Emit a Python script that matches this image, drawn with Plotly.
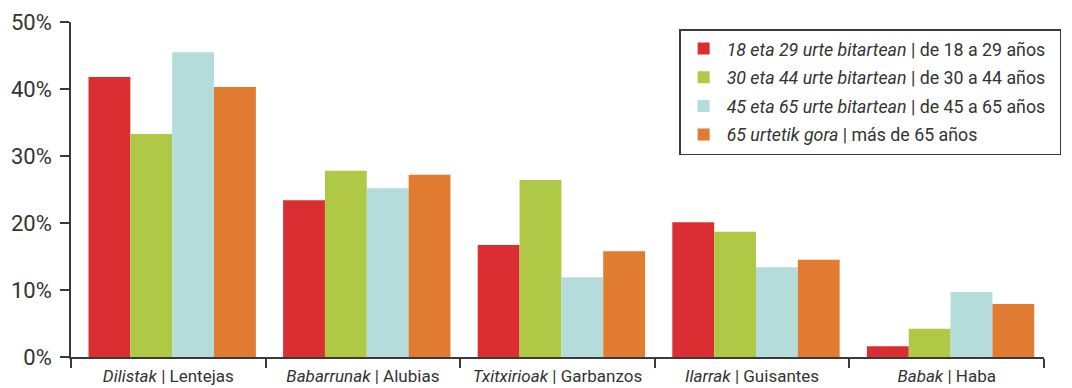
import plotly.graph_objects as go

categories = ["<i>Dilistak</i> | Lentejas", "<i>Babarrunak</i> | Alubias",
              "<i>Txitxirioak</i> | Garbanzos", "<i>Ilarrak</i> | Guisantes",
              "<i>Babak</i> | Haba"]
series_names = ["<i>18 eta 29 urte bitartean</i> | de 18 a 29 años&nbsp;&nbsp;",
                "<i>30 eta 44 urte bitartean</i> | de 30 a 44 años",
                "<i>45 eta 65 urte bitartean</i> | de 45 a 65 años",
                "<i>65 urtetik gora</i> | más de 65 años"]
age_18_29 = [41.8, 23.4, 16.7, 20.1, 1.6]
age_30_44 = [33.3, 27.8, 26.4, 18.7, 4.2]
age_45_65 = [45.5, 25.2, 11.9, 13.4, 9.7]
age_65_plus = [40.3, 27.2, 15.8, 14.5, 7.9]
colors = ["#DA2E33", "#AFC845", "#B3DCDA", "#E07B31"]
tick_vals = [0, 10, 20, 30, 40, 50]
tick_text = ["0%", "10%", "20%", "30%", "40%", "50%"]

group_width = 0.86
bar_w = group_width / 4
shift = 0.02

fig = go.Figure()
for i, (name, vals) in enumerate(zip(series_names, [age_18_29, age_30_44, age_45_65, age_65_plus])):
    fig.add_trace(go.Bar(x=categories, y=vals, name=name, marker_color=colors[i],
                         marker_line_width=0, legendgroup=f"g{i}",
                         width=bar_w, offset=-group_width / 2 + i * bar_w + shift))

axis_color = "#3a3a3a"
fig.update_layout(
    width=1072, height=388,
    margin=dict(l=63, r=36, t=14, b=39),
    paper_bgcolor="white", plot_bgcolor="white",
    barmode="group", bargap=0.14, bargroupgap=0,
    font=dict(family="Roboto", color="#333333"),
    showlegend=True,
    legend=dict(x=0.625, y=0.979, xanchor="left", yanchor="top",
                bordercolor=axis_color, borderwidth=1.5, bgcolor="white",
                font=dict(size=17.8, color="#333333"), tracegroupgap=2.5,
                traceorder="grouped", itemwidth=36),
    xaxis=dict(type="category", tickson="boundaries", ticks="outside", ticklen=9,
               tickcolor=axis_color, tickwidth=1.5, showline=True, linecolor=axis_color,
               linewidth=1.5, showgrid=False, tickfont=dict(size=17, color="#333333"),
               range=[-0.5, 4.5], automargin=False, ticklabelstandoff=3),
    yaxis=dict(range=[0, 50], tickvals=tick_vals, ticktext=tick_text, ticks="outside",
               ticklen=9, tickcolor=axis_color, tickwidth=1.5, showline=True,
               linecolor=axis_color, linewidth=1.5, showgrid=False, zeroline=False,
               tickfont=dict(size=22, color="#333333"), automargin=False,
               ticklabelstandoff=4),
)
fig.write_html("out.html")
